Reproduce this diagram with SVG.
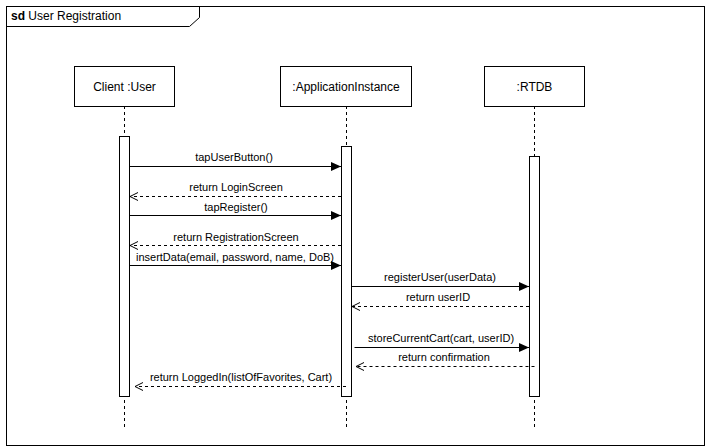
<svg xmlns="http://www.w3.org/2000/svg" width="710" height="447" viewBox="0 0 710 447">
  <defs>
    <marker id="sync" markerWidth="11" markerHeight="9" refX="10" refY="4.5" orient="auto" markerUnits="userSpaceOnUse">
      <path d="M0,0 L10,4.5 L0,9 Z" fill="#000"/>
    </marker>
    <marker id="reply" markerWidth="10" markerHeight="10" refX="9" refY="5" orient="auto" markerUnits="userSpaceOnUse">
      <path d="M1,1 L9,5 L1,9" fill="none" stroke="#000" stroke-width="1"/>
    </marker>
  </defs>
  <style>
    text { font-family: "Liberation Sans", Arial, sans-serif; fill: #000; }
    .frame { fill: #fff; stroke: #000; stroke-width: 1; }
    .head { fill: #fff; stroke: #000; stroke-width: 1; }
    .life { stroke: #000; stroke-width: 1; stroke-dasharray: 3 3; fill: none; }
    .act { fill: #fff; stroke: #000; stroke-width: 1; }
    .call { stroke: #000; stroke-width: 1; fill: none; marker-end: url(#sync); }
    .ret { stroke: #000; stroke-width: 1; stroke-dasharray: 3 3; fill: none; marker-end: url(#reply); }
    .lbl { font-size: 12px; text-anchor: middle; }
    .msg { font-size: 11px; text-anchor: middle; }
  </style>

  <!-- interaction frame -->
  <g id="frame">
    <rect class="frame" x="6.5" y="6.5" width="698" height="439"/>
    <path d="M6.5,26.5 L189.5,26.5 L199.5,17.5 L199.5,6.5" fill="none" stroke="#000" stroke-width="1"/>
    <text x="11" y="20" font-size="12px"><tspan font-weight="bold">sd</tspan> User Registration</text>
  </g>

  <!-- lifelines -->
  <g id="client">
    <line class="life" x1="124.5" y1="106" x2="124.5" y2="428"/>
    <rect class="head" x="74.5" y="66.5" width="100" height="40"/>
    <text class="lbl" x="124.5" y="90.5">Client :User</text>
    <rect class="act" x="119.5" y="136.5" width="10" height="260"/>
  </g>

  <g id="app">
    <line class="life" x1="346.5" y1="106" x2="346.5" y2="428"/>
    <rect class="head" x="280.5" y="66.5" width="131" height="40"/>
    <text class="lbl" x="346" y="90.5">:ApplicationInstance</text>
    <rect class="act" x="341.5" y="146.5" width="10" height="250"/>
  </g>

  <g id="rtdb">
    <line class="life" x1="534.5" y1="106" x2="534.5" y2="428"/>
    <rect class="head" x="484.5" y="66.5" width="100" height="40"/>
    <text class="lbl" x="534.5" y="90.5">:RTDB</text>
    <rect class="act" x="529.5" y="156.5" width="10" height="240"/>
  </g>

  <!-- messages -->
  <g id="connectors">
    <line class="call" x1="129.5" y1="166.5" x2="341" y2="166.5"/>
    <text class="msg" x="234" y="161">tapUserButton()</text>

    <line class="ret" x1="341" y1="196.5" x2="130" y2="196.5"/>
    <text class="msg" x="236" y="191">return LoginScreen</text>

    <line class="call" x1="129.5" y1="215.5" x2="341" y2="215.5"/>
    <text class="msg" x="236" y="211">tapRegister()</text>

    <line class="ret" x1="341" y1="245.5" x2="130" y2="245.5"/>
    <text class="msg" x="236" y="241">return RegistrationScreen</text>

    <line class="call" x1="129.5" y1="265.5" x2="341" y2="265.5"/>
    <text class="msg" x="235" y="261">insertData(email, password, name, DoB)</text>

    <line class="call" x1="351.5" y1="286.5" x2="529" y2="286.5"/>
    <text class="msg" x="440" y="281">registerUser(userData)</text>

    <line class="ret" x1="529" y1="306.5" x2="352" y2="306.5"/>
    <text class="msg" x="438" y="301">return userID</text>

    <line class="call" x1="354.5" y1="347.5" x2="529" y2="347.5"/>
    <text class="msg" x="441" y="342">storeCurrentCart(cart, userID)</text>

    <line class="ret" x1="534.5" y1="366.5" x2="356" y2="366.5"/>
    <text class="msg" x="444" y="361">return confirmation</text>

    <line class="ret" x1="346" y1="386.5" x2="135" y2="386.5"/>
    <text class="msg" x="241" y="381">return LoggedIn(listOfFavorites, Cart)</text>
  </g>
</svg>
